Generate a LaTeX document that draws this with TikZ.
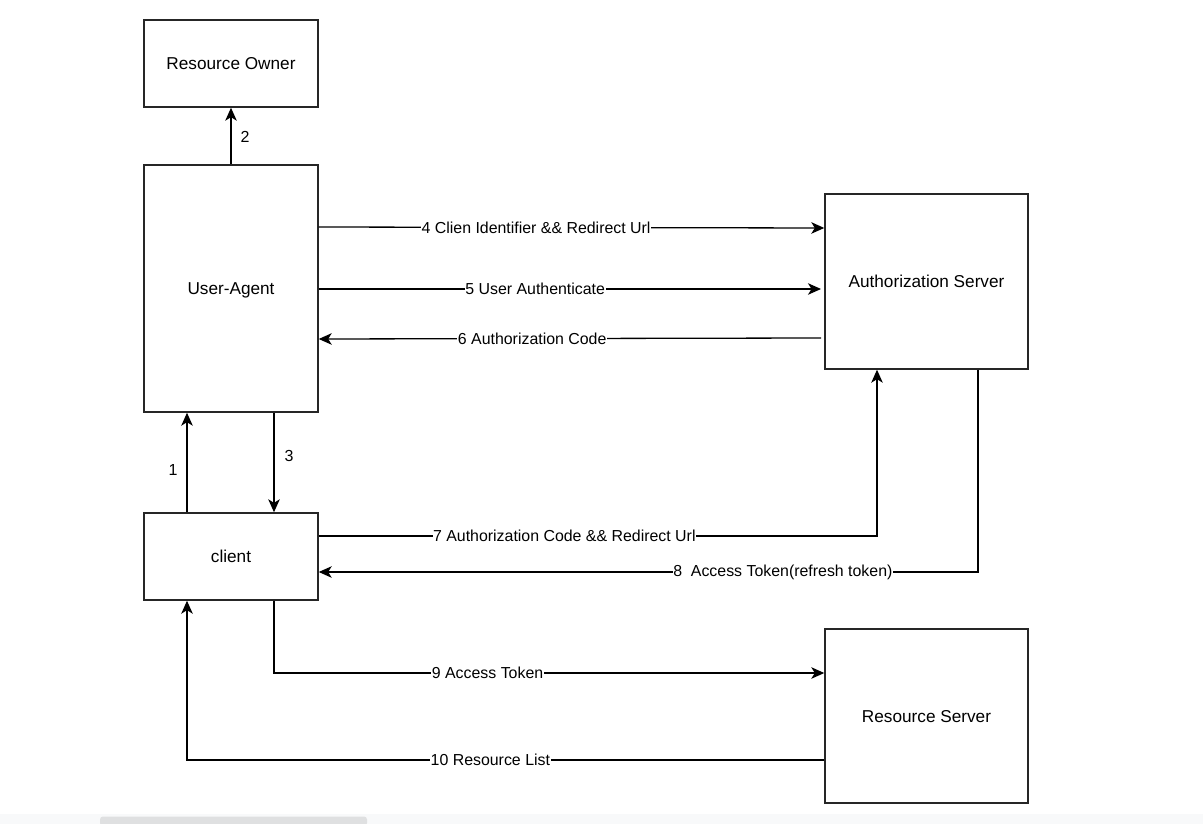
\documentclass[tikz,border=0pt]{standalone}
\usepackage{fontspec}
\setmainfont{Liberation Sans}
\usetikzlibrary{arrows.meta}
\definecolor{boxline}{HTML}{262626}
\definecolor{sbtrack}{HTML}{F8F9FA}
\definecolor{sbthumb}{HTML}{DFE0E1}
\begin{document}
\begin{tikzpicture}[x=1pt,y=-1pt,
  box/.style={draw=boxline,line width=1.4pt,fill=white,inner sep=0pt,text depth=-2pt,font=\fontsize{17.2}{20}\selectfont},
  conn/.style={draw=black,line width=1.3pt,-{Stealth[length=13pt,width=11.5pt,inset=3.5pt]}},
  lbl/.style={fill=white,inner sep=0.5pt,font=\fontsize{15.9}{18}\selectfont},
  num/.style={inner sep=0pt,font=\fontsize{16}{18}\selectfont}]
\useasboundingbox (0,0) rectangle (1203,824);
\fill[white] (0,0) rectangle (1203,824);
% scrollbar strip
\fill[sbtrack] (0,814) rectangle (1203,824);
\fill[sbthumb,rounded corners=3pt] (100,816.5) rectangle (367,826);
% nodes
\node[box,minimum width=174pt,minimum height=87pt] (ro) at (231,63.5) {Resource Owner};
\node[box,minimum width=174pt,minimum height=247pt] (ua) at (231,288.5) {User-Agent};
\node[box,minimum width=203pt,minimum height=175pt] (as) at (926.5,281.5) {Authorization Server};
\node[box,minimum width=174pt,minimum height=87pt] (cl) at (231,556.5) {client};
\node[box,minimum width=203pt,minimum height=174pt] (rs) at (926.5,716) {Resource Server};
% connectors
\draw[conn] (ua.north) -- (ro.south);
\node[num] (n2) at (245,137) {2};
\draw[conn] (cl.north -| 187,0) -- (ua.south -| 187,0);
\node[num] (n1) at (173,470) {1};
\draw[conn] (ua.south -| 274,0) -- (cl.north -| 274,0);
\node[num] (n3) at (289,456) {3};
\draw[conn] (ua.east |- 0,227) -- node[lbl,pos=0.43] {4 Clien Identifier \&\& Redirect Url} (as.west |- 0,228);
\coordinate (e5) at (821,289);
\draw[conn] (ua.east |- 0,289) -- node[lbl,pos=0.431] {5 User Authenticate} (e5);
\coordinate (s6) at (821,338);
\draw[conn] (s6) -- node[lbl,pos=0.575] {6 Authorization Code} (ua.east |- 0,339);
\draw[conn] (cl.east |- 0,536) -| node[lbl,pos=0.22] {7 Authorization Code \&\& Redirect Url} (as.south -| 877,0);
\draw[conn] (as.south -| 978,0) |- node[lbl,pos=0.648] {8~~Access Token(refresh token)} (cl.east |- 0,572);
\draw[conn] (cl.south -| 274,0) |- node[lbl,pos=0.694] {9 Access Token} (rs.west |- 0,673);
\draw[conn] (rs.west |- 0,760) -| node[lbl,pos=0.262] {10 Resource List} (cl.south -| 187,0);
\end{tikzpicture}
\end{document}
